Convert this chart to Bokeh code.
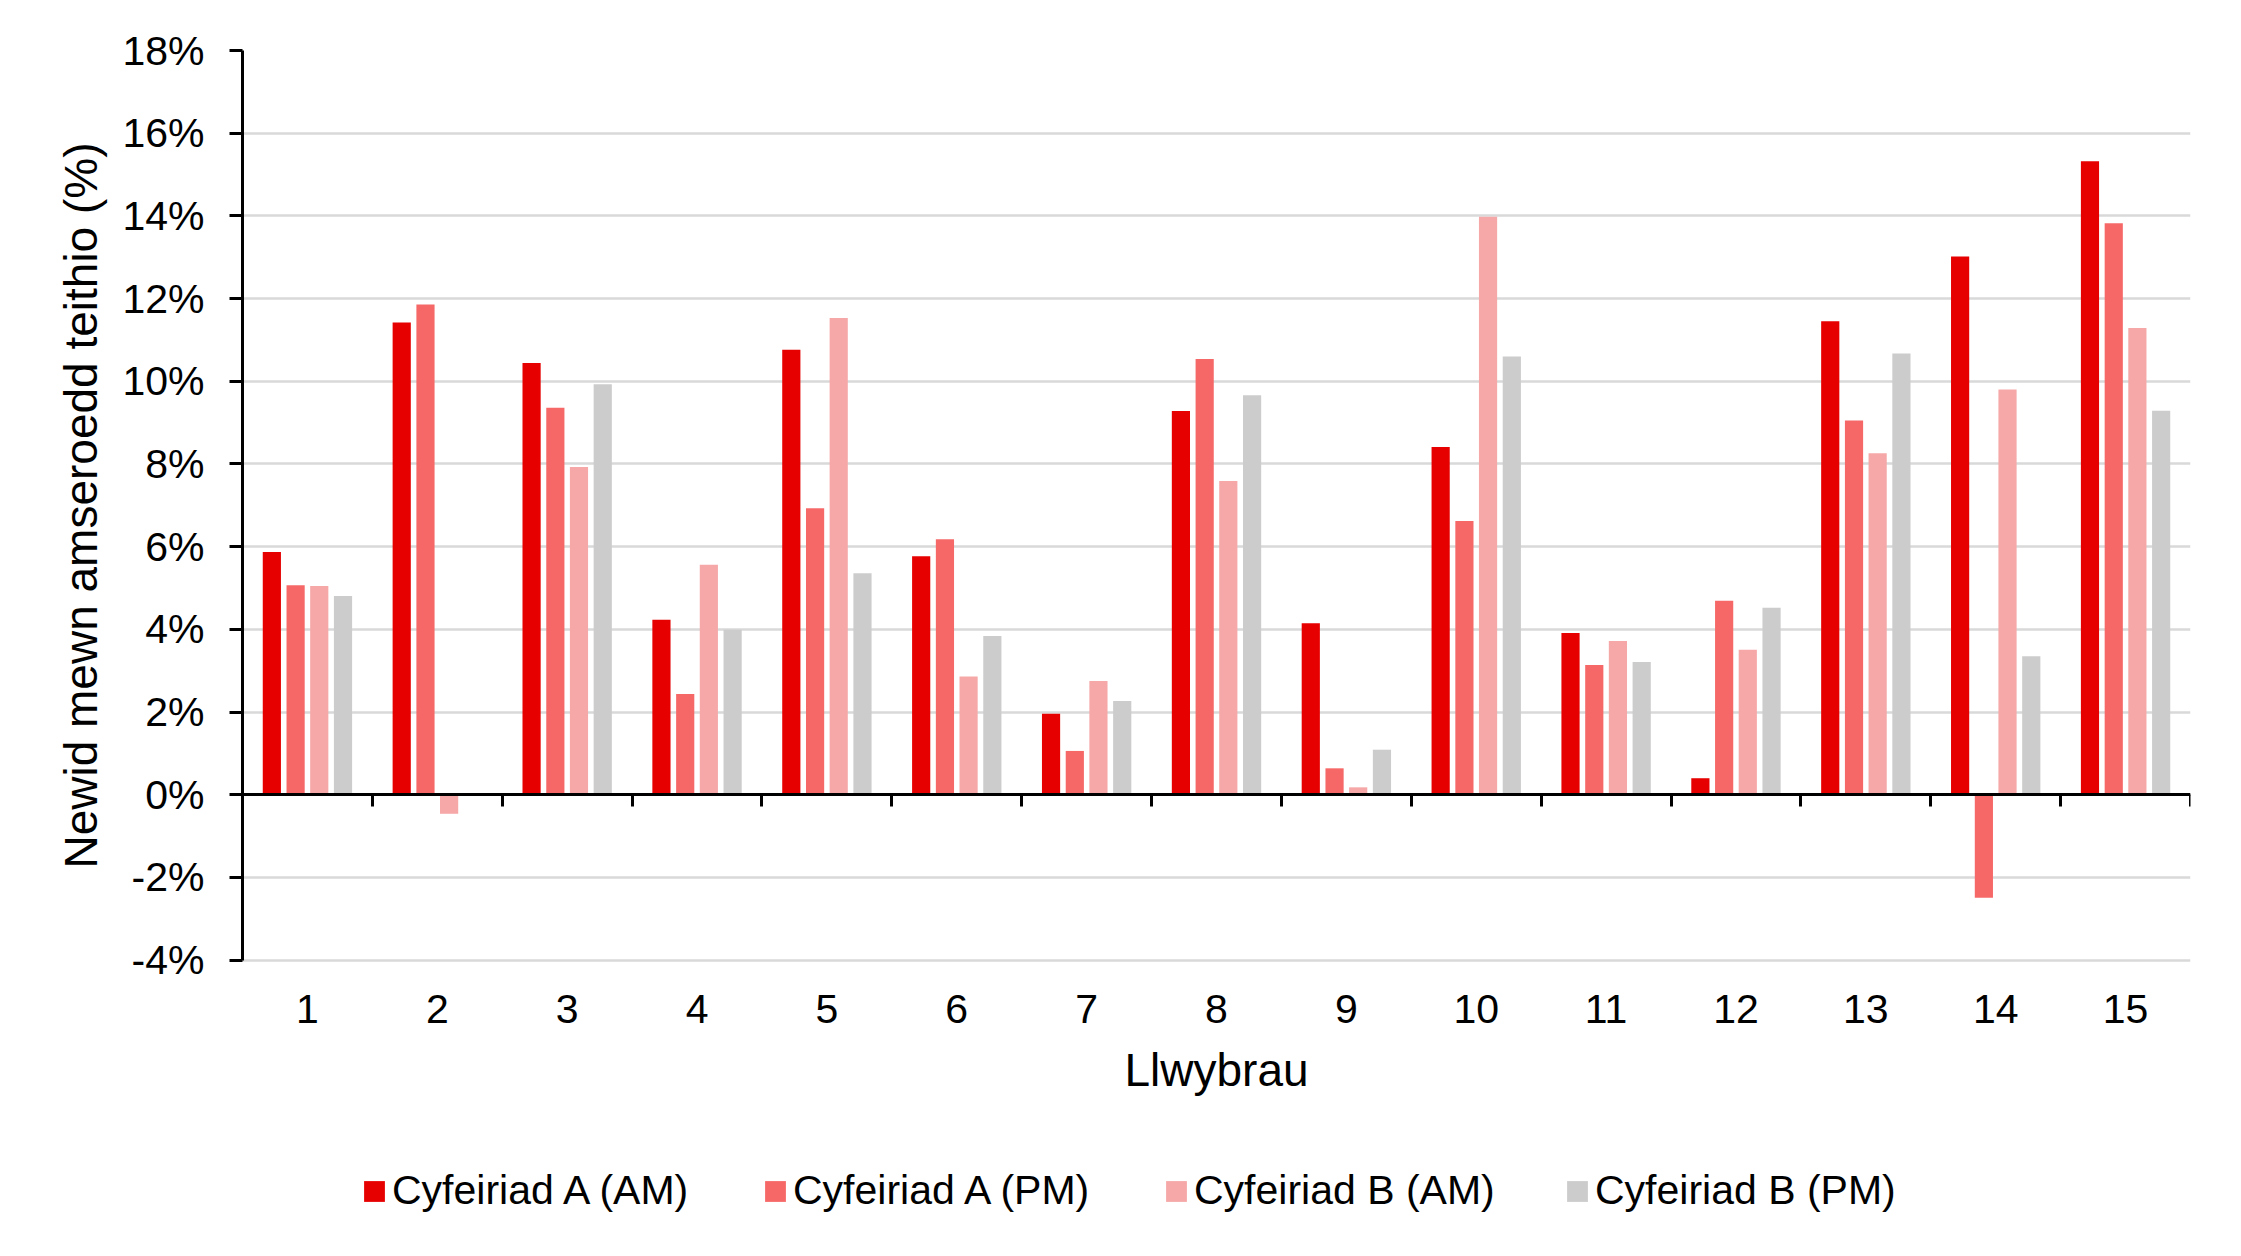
from bokeh.plotting import figure
from bokeh.models import (ColumnDataSource, Range1d, LinearAxis, FixedTicker,
                          PrintfTickFormatter, Legend, LegendItem, Title)
from bokeh.transform import dodge
from bokeh.embed import file_html
from bokeh.resources import INLINE

routes = [str(i) for i in range(1, 16)]
a_am = [5.87, 11.42, 10.44, 4.23, 10.76, 5.77, 1.96, 9.28, 4.15, 8.41, 3.91, 0.40, 11.45, 13.02, 15.32]
a_pm = [5.07, 11.86, 9.36, 2.44, 6.93, 6.18, 1.06, 10.54, 0.64, 6.62, 3.14, 4.69, 9.05, -2.49, 13.82]
b_am = [5.05, -0.46, 7.93, 5.56, 11.53, 2.86, 2.75, 7.59, 0.18, 13.98, 3.72, 3.51, 8.26, 9.80, 11.29]
b_pm = [4.81, 0.0, 9.93, 3.99, 5.36, 3.84, 2.27, 9.66, 1.09, 10.60, 3.21, 4.52, 10.67, 3.35, 9.29]
series_names = ["Cyfeiriad A (AM)", "Cyfeiriad A (PM)", "Cyfeiriad B (AM)", "Cyfeiriad B (PM)"]
y_ticks = [-4, -2, 0, 2, 4, 6, 8, 10, 12, 14, 16, 18]
y_min, y_max = -4, 18
y_title = "Newid mewn amseroedd teithio (%)"
x_title = "Llwybrau"

colors = ["#e60000", "#f66868", "#f6a8a8", "#cccccc"]
FONT = "Liberation Sans"

pos = list(range(1, len(routes) + 1))
source = ColumnDataSource(dict(pos=pos, route=routes, a_am=a_am, a_pm=a_pm, b_am=b_am, b_pm=b_pm))

# frame extends below the value axis so that the legend can sit inside it
p = figure(width=2225, height=1240, x_range=Range1d(0.5, len(routes) + 0.5),
           y_range=Range1d(-10.78, y_max), x_axis_location=None,
           output_backend="svg", toolbar_location=None,
           min_border_left=242, min_border_right=35, min_border_top=50, min_border_bottom=0)
p.outline_line_color = None
p.background_fill_color = "white"

# grid
p.xgrid.visible = False
p.ygrid.grid_line_color = "#d9d9d9"
p.ygrid.grid_line_width = 2.5
p.ygrid.ticker = FixedTicker(ticks=y_ticks)

# y axis
p.yaxis.ticker = FixedTicker(ticks=y_ticks)
p.yaxis.bounds = (y_min, y_max)
p.yaxis.formatter = PrintfTickFormatter(format="%d%%")
p.yaxis.axis_line_width = 3
p.yaxis.axis_line_color = "black"
p.yaxis.major_tick_line_width = 3
p.yaxis.major_tick_out = 13
p.yaxis.major_tick_in = 0
p.yaxis.minor_tick_line_color = None
p.yaxis.major_label_standoff = 25
p.yaxis.major_label_text_font = FONT
p.yaxis.major_label_text_font_size = "41px"
p.yaxis.major_label_text_color = "black"

# y title, aligned to the -4%..18% span (not the whole frame)
ytitle = Title(text=y_title, align="right", offset=92, vertical_align="bottom", standoff=26,
               text_font=FONT, text_font_size="46px", text_font_style="normal", text_color="black")
p.add_layout(ytitle, "left")

# x label axis (route names at group centres), placed under the -4% line
label_axis = LinearAxis(fixed_location=y_min, ticker=FixedTicker(ticks=pos))
label_axis.major_label_overrides = {k: lab for k, lab in zip(pos, routes)}
label_axis.axis_line_color = None
label_axis.major_tick_line_color = None
label_axis.minor_tick_line_color = None
label_axis.major_tick_out = 0
label_axis.major_label_standoff = 35
label_axis.major_label_text_font = FONT
label_axis.major_label_text_font_size = "41px"
label_axis.major_label_text_color = "black"
label_axis.axis_label = x_title
label_axis.axis_label_text_font = FONT
label_axis.axis_label_text_font_size = "46px"
label_axis.axis_label_text_font_style = "normal"
label_axis.axis_label_text_color = "black"
label_axis.axis_label_standoff = 17
p.add_layout(label_axis, "below")

# zero axis with ticks at group boundaries
bounds = [k - 0.5 for k in pos] + [pos[-1] + 0.5]
zero_axis = LinearAxis(fixed_location=0, ticker=FixedTicker(ticks=bounds))
zero_axis.axis_line_width = 3
zero_axis.axis_line_color = "black"
zero_axis.major_tick_line_width = 3
zero_axis.major_tick_out = 12
zero_axis.major_tick_in = 0
zero_axis.minor_tick_line_color = None
zero_axis.major_label_text_font_size = "0px"
zero_axis.major_label_text_color = None
p.add_layout(zero_axis, "below")

offsets = [-0.274, -0.091, 0.091, 0.274]
fields = ["a_am", "a_pm", "b_am", "b_pm"]
items = []
for f, off, c, name in zip(fields, offsets, colors, series_names):
    r = p.vbar(x=dodge("pos", off), top=f, bottom=0, width=0.14,
               source=source, fill_color=c, line_color=None)
    items.append(LegendItem(label=name, renderers=[r]))

legend = Legend(items=items, orientation="horizontal", location=(119, 26),
                label_text_font=FONT, label_text_font_size="41px", label_text_color="black",
                glyph_width=26, glyph_height=26, label_standoff=5, spacing=68,
                label_width=302, padding=0, margin=0,
                border_line_color=None, background_fill_alpha=0)
p.add_layout(legend, "center")

open("out.html", "w").write(file_html(p, INLINE))
